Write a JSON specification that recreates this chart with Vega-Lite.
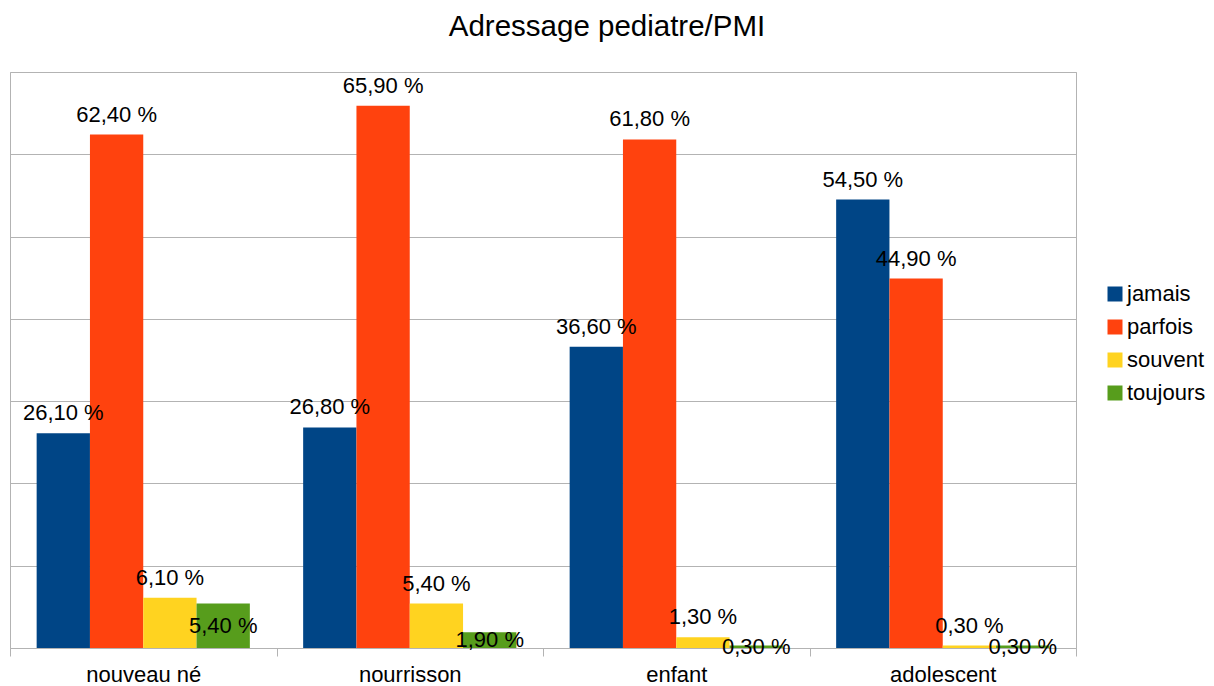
{
  "$schema": "https://vega.github.io/schema/vega-lite/v6.json",
  "width": 1066,
  "height": 576,
  "autosize": {"type": "none"},
  "padding": {"left": 10, "top": 72, "right": 138, "bottom": 38},
  "background": "white",
  "config": {
    "font": "Liberation Sans",
    "locale": {"number": {"decimal": ",", "thousands": "\u00a0", "grouping": [3], "currency": ["", "\u00a0€"], "percent": " %"}},
    "view": {"stroke": "#b3b3b3", "strokeWidth": 1}
  },
  "title": {"text": "Adressage pediatre/PMI", "fontSize": 29.5, "fontWeight": "normal", "color": "black", "anchor": "middle", "dx": 64, "baseline": "alphabetic", "offset": 7},
  "data": {"values": [
    {"cat": "nouveau né", "serie": "jamais", "value": 0.261},
    {"cat": "nouveau né", "serie": "parfois", "value": 0.624},
    {"cat": "nouveau né", "serie": "souvent", "value": 0.061},
    {"cat": "nouveau né", "serie": "toujours", "value": 0.054},
    {"cat": "nourrisson", "serie": "jamais", "value": 0.268},
    {"cat": "nourrisson", "serie": "parfois", "value": 0.659},
    {"cat": "nourrisson", "serie": "souvent", "value": 0.054},
    {"cat": "nourrisson", "serie": "toujours", "value": 0.019},
    {"cat": "enfant", "serie": "jamais", "value": 0.366},
    {"cat": "enfant", "serie": "parfois", "value": 0.618},
    {"cat": "enfant", "serie": "souvent", "value": 0.013},
    {"cat": "enfant", "serie": "toujours", "value": 0.003},
    {"cat": "adolescent", "serie": "jamais", "value": 0.545},
    {"cat": "adolescent", "serie": "parfois", "value": 0.449},
    {"cat": "adolescent", "serie": "souvent", "value": 0.003},
    {"cat": "adolescent", "serie": "toujours", "value": 0.003}
  ]},
  "encoding": {
    "x": {
      "field": "cat", "type": "nominal",
      "sort": ["nouveau né", "nourrisson", "enfant", "adolescent"],
      "scale": {"paddingInner": 0, "paddingOuter": 0},
      "axis": {"title": null, "labelAngle": 0, "labelFontSize": 22, "labelColor": "black", "labelBaseline": "alphabetic", "labelPadding": 25, "tickBand": "extent", "tickSize": 8, "tickColor": "#b3b3b3", "domainColor": "#b3b3b3", "grid": false}
    },
    "xOffset": {
      "field": "serie", "type": "nominal",
      "scale": {"domain": ["jamais", "parfois", "souvent", "toujours"], "paddingInner": 0, "paddingOuter": 0.5}
    },
    "y": {
      "field": "value", "type": "quantitative",
      "scale": {"domain": [0, 0.7], "nice": false},
      "axis": {"title": null, "labels": false, "ticks": false, "domain": false, "values": [0, 0.1, 0.2, 0.3, 0.4, 0.5, 0.6, 0.7], "gridColor": "#b3b3b3", "gridOpacity": 1}
    }
  },
  "layer": [
    {
      "mark": {"type": "bar"},
      "encoding": {
        "color": {
          "field": "serie", "type": "nominal",
          "scale": {"domain": ["jamais", "parfois", "souvent", "toujours"], "range": ["#004586", "#ff420e", "#ffd320", "#579d1c"]},
          "legend": {"orient": "none", "legendX": 1094, "legendY": 211, "title": null, "symbolType": "square", "symbolSize": 225, "symbolStrokeWidth": 0, "labelFontSize": 22, "labelColor": "black", "labelOffset": 1, "rowPadding": 11, "padding": 0}
        }
      }
    },
    {
      "transform": [{"filter": "datum.serie != 'toujours'"}],
      "mark": {"type": "text", "baseline": "alphabetic", "dy": -13, "fontSize": 22, "color": "black"},
      "encoding": {"text": {"field": "value", "type": "quantitative", "format": ".2%"}}
    },
    {
      "transform": [{"filter": "datum.serie == 'toujours'"}],
      "mark": {"type": "text", "baseline": "middle", "fontSize": 22, "color": "black", "dy": {"expr": "(scale('y', 0) - scale('y', datum.value)) / 2"}},
      "encoding": {"text": {"field": "value", "type": "quantitative", "format": ".2%"}}
    }
  ]
}
